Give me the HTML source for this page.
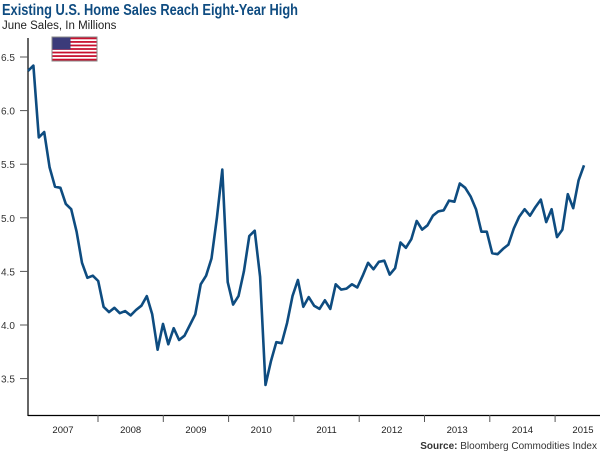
<!DOCTYPE html>
<html><head><meta charset="utf-8"><style>
body{margin:0;background:#fff;width:600px;height:454px;overflow:hidden;font-family:"Liberation Sans",sans-serif}
</style></head><body>
<svg id="chart" width="600" height="454" xmlns="http://www.w3.org/2000/svg">
<text x="2" y="15" font-size="15.5" font-weight="bold" fill="#0f4c81" textLength="296" lengthAdjust="spacingAndGlyphs">Existing  U.S. Home Sales Reach Eight-Year High</text>
<text x="2" y="29" font-size="11.5" fill="#222">June Sales, In Millions</text>
<g>
<rect x="52" y="37" width="45" height="24" fill="#fff" stroke="#888" stroke-width="1"/>
<g id="stripes"></g>
<rect x="52.5" y="37.5" width="18" height="12" fill="#3b3b7a"/>
</g>
<g id="axes"></g>
<path id="line" fill="none" stroke="#0e4c80" stroke-width="2.6" stroke-linejoin="round"/>
<text x="597" y="449" font-size="10" text-anchor="end" fill="#333"><tspan font-weight="bold">Source:</tspan> Bloomberg Commodities Index</text>
</svg>
<script>
const yTicks=[3.5,4.0,4.5,5.0,5.5,6.0,6.5];
const yearLabels=["2007","2008","2009","2010","2011","2012","2013","2014","2015"];
const sales=[6.37,6.42,5.75,5.80,5.47,5.29,5.28,5.13,5.08,4.87,4.58,4.44,4.46,4.41,4.17,4.12,4.16,4.11,4.13,4.09,4.14,4.18,4.27,4.10,3.77,4.01,3.82,3.97,3.86,3.90,4.00,4.10,4.38,4.46,4.62,5.00,5.45,4.40,4.19,4.27,4.50,4.83,4.88,4.45,3.44,3.66,3.84,3.83,4.02,4.27,4.42,4.17,4.26,4.18,4.15,4.23,4.15,4.38,4.33,4.34,4.38,4.35,4.46,4.58,4.52,4.59,4.60,4.47,4.53,4.77,4.72,4.80,4.97,4.89,4.93,5.02,5.06,5.07,5.16,5.15,5.32,5.28,5.20,5.08,4.87,4.87,4.67,4.66,4.71,4.75,4.90,5.01,5.08,5.02,5.10,5.17,4.96,5.08,4.82,4.89,5.22,5.09,5.35,5.49];
const NS="http://www.w3.org/2000/svg";
const y=v=>57+(6.5-v)*107.2;
const x=i=>28+i*(556/(sales.length-1));
const axes=document.getElementById('axes');
function mk(t,a){const e=document.createElementNS(NS,t);for(const k in a)e.setAttribute(k,a[k]);return e;}
const st=document.getElementById('stripes');
for(let i=0;i<13;i+=2){const r=mk('rect',{x:52.5,y:37.5+i*23/13,width:44,height:23/13,fill:'#c8102e'});


st.appendChild(r);}
const ya=mk('line',{x1:28,y1:38,x2:28,y2:416,stroke:'#000','stroke-width':1.2});


axes.appendChild(ya);
const xa=mk('line',{x1:28,y1:415.5,x2:600,y2:415.5,stroke:'#000','stroke-width':1.2});


axes.appendChild(xa);
yTicks.forEach(v=>{
const t=mk('line',{x1:20,x2:28,y1:y(v),y2:y(v),stroke:'#555','stroke-width':1});


axes.appendChild(t);
const l=mk('text',{x:1,y:y(v)+4,'font-size':10,fill:'#333'});l.textContent=v.toFixed(1);


axes.appendChild(l);});
const yw=65.3, t0=98;
const tx=i=>i<=0?28:(i>=9?600:t0+(i-1)*yw);
yearLabels.forEach((s,i)=>{
if(i>0){const t=mk('line',{x1:tx(i),x2:tx(i),y1:415,y2:422,stroke:'#555','stroke-width':1});


axes.appendChild(t);}
let cx=(tx(i)+tx(i+1))/2; if(i===0)cx=63; if(i===8)cx=583;
const l=mk('text',{x:cx,y:433,'font-size':9.5,'text-anchor':'middle',fill:'#222'});l.textContent=s;


axes.appendChild(l);});
document.getElementById('line').setAttribute('d',sales.map((v,i)=>(i?'L':'M')+x(i).toFixed(1)+' '+y(v).toFixed(1)).join(' '));
</script>
</body></html>
